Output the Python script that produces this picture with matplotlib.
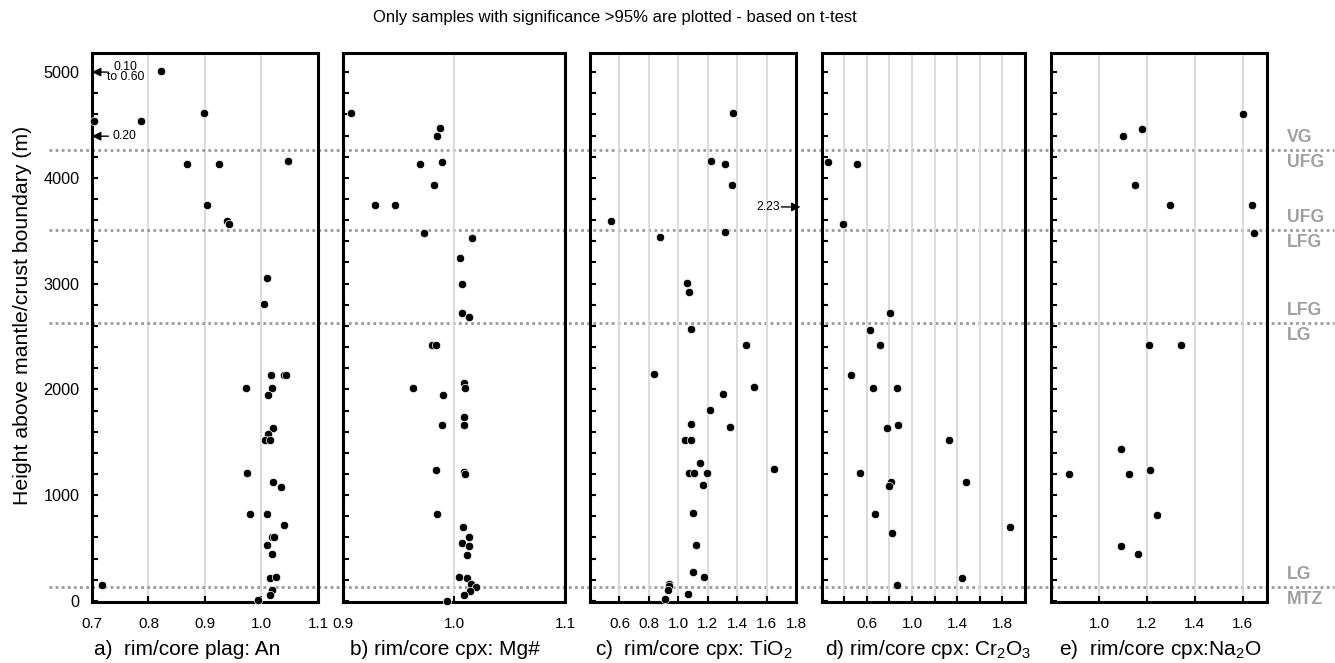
import matplotlib
matplotlib.use('Agg')
import matplotlib.pyplot as plt
from matplotlib.lines import Line2D
from matplotlib.transforms import blended_transform_factory as btf
import numpy as np

plt.rcParams['font.family'] = ['Liberation Sans', 'DejaVu Sans']
plt.rcParams['mathtext.fontset'] = 'custom'
plt.rcParams['mathtext.rm'] = 'Liberation Sans'
plt.rcParams['mathtext.it'] = 'Liberation Sans'
plt.rcParams['mathtext.default'] = 'regular'

# ---------------- data ----------------
plag_an_x = [0.823, 0.899, 0.703, 0.787, 0.869, 0.924, 1.047, 0.904, 0.939, 0.943,
             1.010, 1.005, 1.017, 1.040, 1.043, 0.972, 1.018, 1.012, 1.021, 1.011,
             1.006, 1.015, 0.974, 1.021, 1.034, 0.979, 1.010, 1.039, 1.019, 1.023,
             1.009, 1.019, 1.015, 1.025, 0.718, 1.019, 1.015, 0.994]
plag_an_h = [5010, 4612, 4541, 4541, 4134, 4134, 4156, 3744, 3594, 3566,
             3053, 2812, 2136, 2136, 2136, 2016, 2016, 1946, 1637, 1574,
             1520, 1520, 1205, 1126, 1073, 826, 826, 722, 606, 606,
             527, 442, 218, 227, 155, 101, 54, 9]

cpx_mg_x = [0.9075, 0.9877, 0.9847, 0.969, 0.9889, 0.982, 0.929, 0.947, 0.9727, 1.0165,
            1.0054, 1.0072, 1.0072, 1.0135, 0.980, 0.9835, 0.963, 1.009, 1.010, 0.990,
            1.009, 0.989, 1.009, 0.984, 1.009, 1.0095, 0.9847, 1.0078, 1.0132, 1.0072,
            1.0135, 1.0117, 1.0048, 1.0114, 1.0153, 1.0195, 1.014, 1.0093, 0.994]
cpx_mg_h = [4609, 4469, 4394, 4131, 4150, 3931, 3744, 3744, 3481, 3434,
            3247, 2994, 2719, 2681, 2416, 2416, 2009, 2057, 2009, 1946,
            1735, 1666, 1666, 1237, 1215, 1199, 820, 700, 606, 552,
            520, 438, 227, 218, 161, 132, 95, 54, 3]

cpx_ti_x = [1.369, 1.220, 1.315, 1.365, 0.543, 0.878, 1.317, 1.057, 1.073, 1.086,
            1.458, 0.837, 1.517, 1.301, 1.218, 1.089, 1.354, 1.048, 1.086, 1.150,
            1.073, 1.107, 1.193, 1.648, 1.168, 1.100, 1.123, 1.098, 1.175, 0.939,
            0.934, 0.932, 1.066, 0.912]
cpx_ti_h = [4612, 4159, 4134, 3937, 3594, 3441, 3491, 3003, 2922, 2572,
            2422, 2142, 2019, 1953, 1808, 1672, 1644, 1524, 1524, 1306,
            1208, 1208, 1208, 1246, 1095, 830, 530, 271, 224, 161,
            143, 104, 63, 16]

cpx_cr_x = [0.253, 0.512, 0.385, 0.803, 0.632, 0.712, 0.462, 0.653, 0.871, 0.776,
            0.876, 1.329, 0.535, 0.815, 0.800, 1.476, 0.668, 0.821, 1.865, 1.444, 0.871]
cpx_cr_h = [4150, 4131, 3566, 2719, 2566, 2416, 2136, 2013, 2013, 1637,
            1666, 1517, 1208, 1129, 1088, 1126, 820, 640, 700, 218, 148]

cpx_na_x = [1.601, 1.178, 1.102, 1.150, 1.295, 1.638, 1.645, 1.208, 1.341, 1.090,
            0.874, 1.127, 1.211, 1.241, 1.092, 1.162]
cpx_na_h = [4606, 4466, 4394, 3931, 3744, 3744, 3481, 2416, 2416, 1438,
            1199, 1199, 1237, 811, 524, 442]

boundary_heights = [4260, 3505, 2630, 135]
zone_above = ['VG', 'UFG', 'LFG', 'LG']
zone_below = ['UFG', 'LFG', 'LG', 'MTZ']

panel_labels = ['a)  rim/core plag: An', 'b) rim/core cpx: Mg#',
                'c)  rim/core cpx: TiO$_2$', 'd) rim/core cpx: Cr$_2$O$_3$',
                'e)  rim/core cpx:Na$_2$O']

title = 'Only samples with significance >95% are plotted - based on t-test'
ylabel = 'Height above mantle/crust boundary (m)'

# ---------------- layout ----------------
fig = plt.figure(figsize=(13.35, 6.63), dpi=100)
rects = [(0.0689, 0.1693), (0.2569, 0.1663), (0.4420, 0.1543),
         (0.6155, 0.1523), (0.7873, 0.1616)]
label_x = [0.1405, 0.3330, 0.5195, 0.6955, 0.8693]
bottom, height = 0.092, 0.828

specs = [
    dict(x=plag_an_x, h=plag_an_h, xlim=(0.7, 1.1), ticks=[0.7, 0.8, 0.9, 1.0, 1.1],
         labels=['0.7', '0.8', '0.9', '1.0', '1.1']),
    dict(x=cpx_mg_x, h=cpx_mg_h, xlim=(0.9, 1.1), ticks=[0.9, 1.0, 1.1],
         labels=['0.9', '1.0', '1.1']),
    dict(x=cpx_ti_x, h=cpx_ti_h, xlim=(0.4, 1.8),
         ticks=[0.4, 0.6, 0.8, 1.0, 1.2, 1.4, 1.6, 1.8],
         labels=['', '0.6', '0.8', '1.0', '1.2', '1.4', '1.6', '1.8']),
    dict(x=cpx_cr_x, h=cpx_cr_h, xlim=(0.2, 2.0),
         ticks=[0.2, 0.4, 0.6, 0.8, 1.0, 1.2, 1.4, 1.6, 1.8, 2.0],
         labels=['', '', '0.6', '', '1.0', '', '1.4', '', '1.8', '']),
    dict(x=cpx_na_x, h=cpx_na_h, xlim=(0.8, 1.7), ticks=[1.0, 1.2, 1.4, 1.6],
         labels=['1.0', '1.2', '1.4', '1.6']),
]

axes = []
for i, ((l, w), sp) in enumerate(zip(rects, specs)):
    ax = fig.add_axes([l, bottom, w, height])
    ax.set_facecolor('none')
    ax.set_xlim(*sp['xlim'])
    ax.set_ylim(-10, 5180)
    ax.set_xticks(sp['ticks'], labels=sp['labels'])
    yt = np.arange(0, 5001, 200)
    ax.set_yticks(yt)
    if i == 0:
        ax.set_yticklabels([str(int(v)) if v % 1000 == 0 else '' for v in yt])
    else:
        ax.set_yticklabels([])
    ax.tick_params(axis='both', direction='in', length=4, width=1.5,
                   labelsize=11, pad=9, colors='black')
    ax.tick_params(axis='y', labelsize=11.7)
    ax.tick_params(axis='x', pad=11)
    ax.xaxis.grid(True, color='#d9d9d9', lw=1.3)
    ax.set_axisbelow(True)
    for s in ax.spines.values():
        s.set_linewidth(2.2)
        s.set_color('black')
    ax.plot(sp['x'], sp['h'], 'o', color='black', ms=6.0, mec='white', mew=0.5,
            zorder=3, clip_on=False)
    fig.text(label_x[i], 0.012, panel_labels[i], ha='center', va='baseline',
             fontsize=15)
    axes.append(ax)

ax0 = axes[0]
tr = btf(fig.transFigure, ax0.transData)
for b, za, zb in zip(boundary_heights, zone_above, zone_below):
    ln = Line2D([0.037, 0.999], [b, b], transform=tr, color='#9a9a9a', lw=2.0,
                ls=(0, (1, 1.2)), clip_on=False, zorder=1)
    ax0.add_artist(ln)
    ax0.annotate(za, xy=(0.964, b), xycoords=tr, xytext=(0, 9), textcoords='offset points',
                 ha='left', va='center', fontsize=12.7, fontweight='bold', color='#a0a0a0',
                 annotation_clip=False)
    ax0.annotate(zb, xy=(0.964, b), xycoords=tr, xytext=(0, -9), textcoords='offset points',
                 ha='left', va='center', fontsize=12.7, fontweight='bold', color='#a0a0a0',
                 annotation_clip=False)

arrow = dict(arrowstyle='-|>', color='black', lw=1.0, mutation_scale=13,
             shrinkA=0, shrinkB=0)
ax0.annotate('', xy=(0.700, 5000), xytext=(0.727, 5000), arrowprops=arrow,
             annotation_clip=False)
ax0.text(0.760, 5000, '0.10\nto 0.60', ha='center', va='center', fontsize=8.7,
         linespacing=0.8)
ax0.annotate('', xy=(0.700, 4394), xytext=(0.729, 4394), arrowprops=arrow,
             annotation_clip=False)
ax0.text(0.736, 4394, '0.20', ha='left', va='center', fontsize=8.7)

axes[2].annotate('', xy=(1.83, 3725), xytext=(1.70, 3725), arrowprops=arrow,
                 annotation_clip=False)
axes[2].text(1.69, 3725, '2.23', ha='right', va='center', fontsize=8.7)

fig.text(0.4607, 0.973, title, ha='center', va='center', fontsize=12)
fig.text(0.0169, 0.525, ylabel, rotation=90, ha='center', va='center', fontsize=15.3)

fig.savefig('out.png', dpi=100)
